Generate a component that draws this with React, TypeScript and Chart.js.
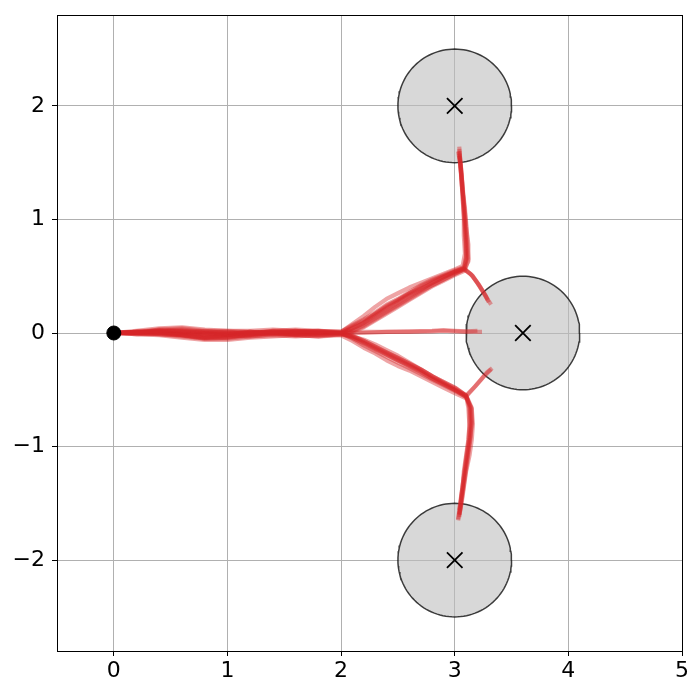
import { useEffect, useRef } from "react";
import { Chart, registerables } from "chart.js";
Chart.register(...registerables);

type P = [number, number];

const xTicks = [0, 1, 2, 3, 4, 5];
const yTicks = [-2, -1, 0, 1, 2];
const xMin = -0.5, xMax = 5;
const yMin = -2.8, yMax = 2.8;

const obstacleX = [3, 3.6, 3];
const obstacleY = [2, 0, -2];
const obstacleR = [0.5, 0.5, 0.5];
const startPoint: P = [0, 0];

const up1: P[] = [[0,0],[0.2,0.01],[0.4,0.02],[0.6,0.03],[0.8,0.01],[1,0.01],[1.2,0],[1.4,0.02],[1.6,0.01],[1.8,0.02],[2,0.01],[2.1,0.07],[2.2,0.12],[2.3,0.18],[2.4,0.25],[2.5,0.3],[2.6,0.36],[2.7,0.42],[2.8,0.47],[2.9,0.51],[3,0.55],[3.08,0.58],[3.1,0.66],[3.1,0.8],[3.09,0.95],[3.08,1.1],[3.07,1.25],[3.06,1.4],[3.05,1.52],[3.04,1.62]];
const up2: P[] = [[0,0],[0.2,0],[0.4,-0.01],[0.6,-0.02],[0.8,-0.04],[1,-0.03],[1.2,-0.02],[1.4,0],[1.6,-0.02],[1.8,-0.03],[2,-0.01],[2.1,0.01],[2.2,0.05],[2.3,0.11],[2.4,0.17],[2.5,0.23],[2.6,0.29],[2.7,0.35],[2.8,0.41],[2.9,0.46],[3,0.51],[3.09,0.55],[3.12,0.65],[3.11,0.82],[3.1,0.98],[3.08,1.14],[3.07,1.3],[3.05,1.45],[3.04,1.58]];
const up3: P[] = [[0,0],[0.2,0.02],[0.4,0.04],[0.6,0.05],[0.8,0.03],[1,0.02],[1.2,0.02],[1.4,0.03],[1.6,0.02],[1.8,0.01],[2,0.01],[2.1,0.08],[2.2,0.15],[2.3,0.23],[2.4,0.3],[2.5,0.35],[2.6,0.4],[2.7,0.44],[2.8,0.48],[2.9,0.52],[3,0.56],[3.07,0.59],[3.09,0.7],[3.08,0.86],[3.08,1.02],[3.07,1.18],[3.06,1.34],[3.05,1.48],[3.03,1.6]];
const up4: P[] = [[0,0],[0.2,-0.01],[0.4,0],[0.6,-0.02],[0.8,-0.05],[1,-0.05],[1.2,-0.03],[1.4,-0.01],[1.6,0],[1.8,0],[2,0],[2.1,0.04],[2.2,0.09],[2.3,0.16],[2.4,0.22],[2.5,0.28],[2.6,0.34],[2.7,0.39],[2.8,0.44],[2.9,0.49],[3,0.54],[3.08,0.57],[3.11,0.66],[3.1,0.84],[3.09,1.0],[3.08,1.16],[3.06,1.32],[3.05,1.48],[3.04,1.64]];
const up5: P[] = [[0,0],[0.2,0.01],[0.4,0.01],[0.6,0],[0.8,0.02],[1,0.02],[1.2,0.01],[1.4,0],[1.6,0.02],[1.8,0.01],[2,0],[2.1,0.02],[2.2,0.07],[2.3,0.13],[2.4,0.19],[2.5,0.25],[2.6,0.31],[2.7,0.37],[2.8,0.42],[2.9,0.47],[3,0.52],[3.08,0.56],[3.12,0.63],[3.12,0.78],[3.1,0.94],[3.09,1.1],[3.07,1.26],[3.06,1.42],[3.04,1.56]];
const up6: P[] = [[0,0],[0.2,0],[0.4,0.02],[0.6,0.01],[0.8,-0.01],[1,-0.01],[1.2,0.01],[1.4,0.01],[1.6,-0.01],[1.8,0],[2,0],[2.1,0.05],[2.2,0.1],[2.3,0.17],[2.4,0.23],[2.5,0.29],[2.6,0.35],[2.7,0.4],[2.8,0.45],[2.9,0.5],[3,0.54],[3.09,0.57],[3.1,0.68],[3.09,0.86],[3.08,1.04],[3.07,1.2],[3.06,1.36],[3.05,1.5],[3.04,1.6]];
const upR1: P[] = [[0,0],[0.2,0],[0.4,0.03],[0.6,0.04],[0.8,0.02],[1,0],[1.2,-0.01],[1.4,0.02],[1.6,0.03],[1.8,0.02],[2,0.01],[2.1,0.06],[2.2,0.11],[2.3,0.17],[2.4,0.24],[2.5,0.29],[2.6,0.35],[2.7,0.41],[2.8,0.46],[2.9,0.5],[3,0.54],[3.08,0.57],[3.15,0.51],[3.21,0.43],[3.26,0.35],[3.3,0.28],[3.32,0.25]];
const upR2: P[] = [[0,0],[0.2,0.01],[0.4,0],[0.6,-0.01],[0.8,-0.03],[1,-0.02],[1.2,0],[1.4,0.01],[1.6,0.02],[1.8,0],[2,0],[2.1,0.02],[2.2,0.06],[2.3,0.12],[2.4,0.18],[2.5,0.24],[2.6,0.3],[2.7,0.36],[2.8,0.42],[2.9,0.47],[3,0.52],[3.09,0.56],[3.16,0.5],[3.22,0.41],[3.27,0.33],[3.3,0.27]];
const upR3: P[] = [[0,0],[0.2,0],[0.4,0.01],[0.6,0.02],[0.8,0],[1,-0.01],[1.2,0.01],[1.4,0],[1.6,0],[1.8,0.01],[2,0],[2.1,0.04],[2.2,0.09],[2.3,0.15],[2.4,0.21],[2.5,0.27],[2.6,0.33],[2.7,0.38],[2.8,0.44],[2.9,0.49],[3,0.53],[3.08,0.56],[3.14,0.52],[3.2,0.44],[3.25,0.36],[3.29,0.29]];
const mid1: P[] = [[0,0],[0.2,0.01],[0.4,0.03],[0.6,0.02],[0.8,0.01],[1,0.01],[1.2,0],[1.4,0],[1.6,0.01],[1.8,0.02],[2,0],[2.2,0.01],[2.4,0.01],[2.6,0.01],[2.8,0.015],[2.9,0.02],[3,0.015],[3.12,0.01],[3.24,0.01]];
const mid2: P[] = [[0,0],[0.2,0],[0.4,-0.01],[0.6,-0.02],[0.8,-0.04],[1,-0.02],[1.2,0.01],[1.4,-0.01],[1.6,-0.02],[1.8,0],[2,0],[2.2,0],[2.4,0.01],[2.6,0.015],[2.8,0.02],[2.9,0.025],[3,0.02],[3.1,0.015],[3.2,0.02]];
const lo1: P[] = [[0,0],[0.2,0],[0.4,0.01],[0.6,-0.01],[0.8,-0.03],[1,-0.03],[1.2,-0.01],[1.4,0],[1.6,-0.01],[1.8,-0.02],[2,-0.01],[2.1,-0.02],[2.2,-0.07],[2.3,-0.12],[2.4,-0.17],[2.5,-0.22],[2.6,-0.27],[2.7,-0.32],[2.8,-0.38],[2.9,-0.43],[3,-0.48],[3.1,-0.55],[3.13,-0.64],[3.14,-0.78],[3.13,-0.92],[3.11,-1.06],[3.09,-1.2],[3.07,-1.34],[3.05,-1.48],[3.03,-1.64]];
const lo2: P[] = [[0,0],[0.2,-0.01],[0.4,-0.02],[0.6,-0.04],[0.8,-0.06],[1,-0.06],[1.2,-0.04],[1.4,-0.03],[1.6,-0.02],[1.8,-0.03],[2,-0.02],[2.1,-0.07],[2.2,-0.13],[2.3,-0.18],[2.4,-0.24],[2.5,-0.29],[2.6,-0.33],[2.7,-0.38],[2.8,-0.43],[2.9,-0.48],[3,-0.53],[3.11,-0.58],[3.15,-0.67],[3.16,-0.8],[3.15,-0.94],[3.13,-1.08],[3.1,-1.22],[3.08,-1.36],[3.06,-1.5],[3.04,-1.6]];
const lo3: P[] = [[0,0],[0.2,0.01],[0.4,0],[0.6,0],[0.8,-0.01],[1,-0.01],[1.2,0],[1.4,0.01],[1.6,0],[1.8,0],[2,0],[2.1,-0.04],[2.2,-0.09],[2.3,-0.14],[2.4,-0.19],[2.5,-0.24],[2.6,-0.29],[2.7,-0.34],[2.8,-0.4],[2.9,-0.45],[3,-0.5],[3.1,-0.56],[3.14,-0.65],[3.15,-0.78],[3.14,-0.92],[3.12,-1.06],[3.1,-1.2],[3.08,-1.34],[3.06,-1.48],[3.04,-1.62]];
const lo4: P[] = [[0,0],[0.2,0],[0.4,0.02],[0.6,0.01],[0.8,0],[1,-0.02],[1.2,-0.03],[1.4,-0.02],[1.6,-0.03],[1.8,-0.02],[2,-0.01],[2.1,-0.03],[2.2,-0.06],[2.3,-0.1],[2.4,-0.15],[2.5,-0.2],[2.6,-0.26],[2.7,-0.32],[2.8,-0.38],[2.9,-0.44],[3,-0.5],[3.1,-0.55],[3.13,-0.66],[3.13,-0.8],[3.12,-0.94],[3.1,-1.08],[3.08,-1.22],[3.07,-1.36],[3.05,-1.5],[3.04,-1.56]];
const lo5: P[] = [[0,0],[0.2,-0.01],[0.4,-0.01],[0.6,-0.03],[0.8,-0.05],[1,-0.04],[1.2,-0.02],[1.4,0],[1.6,-0.01],[1.8,-0.01],[2,0],[2.1,-0.05],[2.2,-0.11],[2.3,-0.16],[2.4,-0.21],[2.5,-0.26],[2.6,-0.31],[2.7,-0.36],[2.8,-0.41],[2.9,-0.46],[3,-0.51],[3.11,-0.57],[3.15,-0.66],[3.15,-0.8],[3.13,-0.96],[3.11,-1.1],[3.09,-1.24],[3.07,-1.38],[3.05,-1.52],[3.03,-1.65]];
const lo6: P[] = [[0,0],[0.2,0.01],[0.4,0.02],[0.6,0.01],[0.8,-0.02],[1,-0.02],[1.2,-0.01],[1.4,0.01],[1.6,0.01],[1.8,0.01],[2,0],[2.1,-0.03],[2.2,-0.08],[2.3,-0.13],[2.4,-0.18],[2.5,-0.23],[2.6,-0.28],[2.7,-0.33],[2.8,-0.39],[2.9,-0.44],[3,-0.49],[3.1,-0.55],[3.12,-0.66],[3.13,-0.82],[3.12,-0.96],[3.1,-1.1],[3.08,-1.26],[3.06,-1.42],[3.05,-1.54],[3.04,-1.6]];
const loR1: P[] = [[0,0],[0.2,0],[0.4,0.01],[0.6,-0.02],[0.8,-0.04],[1,-0.04],[1.2,-0.01],[1.4,0],[1.6,-0.01],[1.8,-0.01],[2,-0.01],[2.1,-0.04],[2.2,-0.09],[2.3,-0.14],[2.4,-0.19],[2.5,-0.24],[2.6,-0.29],[2.7,-0.34],[2.8,-0.4],[2.9,-0.45],[3,-0.5],[3.1,-0.56],[3.17,-0.48],[3.23,-0.41],[3.28,-0.35],[3.33,-0.31]];
const loR2: P[] = [[0,0],[0.2,0.01],[0.4,0],[0.6,-0.01],[0.8,0],[1,0],[1.2,-0.01],[1.4,0],[1.6,0.01],[1.8,0],[2,0],[2.1,-0.03],[2.2,-0.07],[2.3,-0.12],[2.4,-0.17],[2.5,-0.22],[2.6,-0.27],[2.7,-0.32],[2.8,-0.38],[2.9,-0.43],[3,-0.48],[3.1,-0.55],[3.18,-0.47],[3.25,-0.39],[3.32,-0.32]];

const trajectories: P[][] = [up1, up2, up3, up4, up5, up6, upR1, upR2, upR3, mid1, mid2, lo1, lo2, lo3, lo4, lo5, lo6, loR1, loR2];

const fmt = (v: number) => (v < 0 ? "\u2212" + Math.abs(v) : String(v));

const framePlugin = {
  id: "frame",
  afterDraw(chart: any) {
    const { ctx, chartArea: a } = chart;
    ctx.save();
    ctx.strokeStyle = "#000";
    ctx.lineWidth = 1;
    ctx.strokeRect(Math.round(a.left) + 0.5, Math.round(a.top) + 0.5, Math.round(a.right - a.left), Math.round(a.bottom - a.top));
    ctx.restore();
  },
};

export default function App() {
  const ref = useRef<HTMLCanvasElement>(null);
  useEffect(() => {
    if (!ref.current) return;
    const circleSets = obstacleX.map((cx, i) => {
      const pts = [];
      for (let k = 0; k <= 120; k++) {
        const t = (2 * Math.PI * k) / 120;
        pts.push({ x: cx + obstacleR[i] * Math.cos(t), y: obstacleY[i] + obstacleR[i] * Math.sin(t) });
      }
      return {
        type: "scatter" as const,
        data: pts,
        showLine: true,
        fill: "shape",
        backgroundColor: "rgba(190,190,190,0.6)",
        borderColor: "rgba(0,0,0,0.75)",
        borderWidth: 1.5,
        pointRadius: 0,
        tension: 0,
        order: 5,
      };
    });
    const trajSets = trajectories.map((tr) => ({
      type: "scatter" as const,
      data: tr.map(([x, y]) => ({ x, y })),
      showLine: true,
      fill: false,
      borderColor: "rgba(214,39,40,0.42)",
      borderWidth: 4.2,
      borderCapStyle: "butt",
      borderJoinStyle: "round",
      pointRadius: 0,
      tension: 0,
      order: 3,
    }));
    const chart = new Chart(ref.current, {
      type: "scatter",
      data: {
        datasets: [
          {
            data: obstacleX.map((x, i) => ({ x, y: obstacleY[i] })),
            pointStyle: "crossRot",
            pointRadius: 11,
            borderWidth: 1.8,
            borderColor: "#000",
            backgroundColor: "#000",
            order: 0,
          },
          {
            data: [{ x: startPoint[0], y: startPoint[1] }],
            pointRadius: 7,
            borderWidth: 1,
            borderColor: "#000",
            backgroundColor: "#000",
            order: 1,
          },
          ...trajSets,
          ...circleSets,
        ] as any,
      },
      options: {
        animation: false,
        responsive: false,
        layout: { padding: { top: 15, right: 18, left: 0, bottom: 0 } },
        plugins: { legend: { display: false }, tooltip: { enabled: false } },
        scales: {
          x: {
            type: "linear",
            min: xMin,
            max: xMax,
            afterBuildTicks: (s: any) => {
              s.ticks = xTicks.map((v) => ({ value: v }));
            },
            afterFit: (s: any) => {
              s.height = 49;
              s.paddingLeft = 0;
              s.paddingRight = 0;
            },
            grid: { color: "#b0b0b0", lineWidth: 1, tickColor: "#000", tickLength: 5 },
            border: { color: "#000", width: 1 },
            ticks: {
              color: "#000",
              font: { family: "DejaVu Sans", size: 22 },
              padding: 2,
              maxRotation: 0,
              autoSkip: false,
              callback: (v: any) => fmt(Number(v)),
            },
          },
          y: {
            type: "linear",
            min: yMin,
            max: yMax,
            afterBuildTicks: (s: any) => {
              s.ticks = yTicks.map((v) => ({ value: v }));
            },
            afterFit: (s: any) => {
              s.width = 57;
              s.paddingTop = 0;
              s.paddingBottom = 0;
            },
            grid: { color: "#b0b0b0", lineWidth: 1, tickColor: "#000", tickLength: 5 },
            border: { color: "#000", width: 1 },
            ticks: {
              color: "#000",
              font: { family: "DejaVu Sans", size: 22 },
              padding: 7,
              autoSkip: false,
              callback: (v: any) => fmt(Number(v)),
            },
          },
        },
      },
      plugins: [framePlugin],
    });
    return () => chart.destroy();
  }, []);
  return (
    <div style={{ position: "fixed", left: 0, top: 0, width: 700, height: 700, background: "#fff" }}>
      <canvas ref={ref} width={700} height={700} style={{ display: "block" }} />
    </div>
  );
}
